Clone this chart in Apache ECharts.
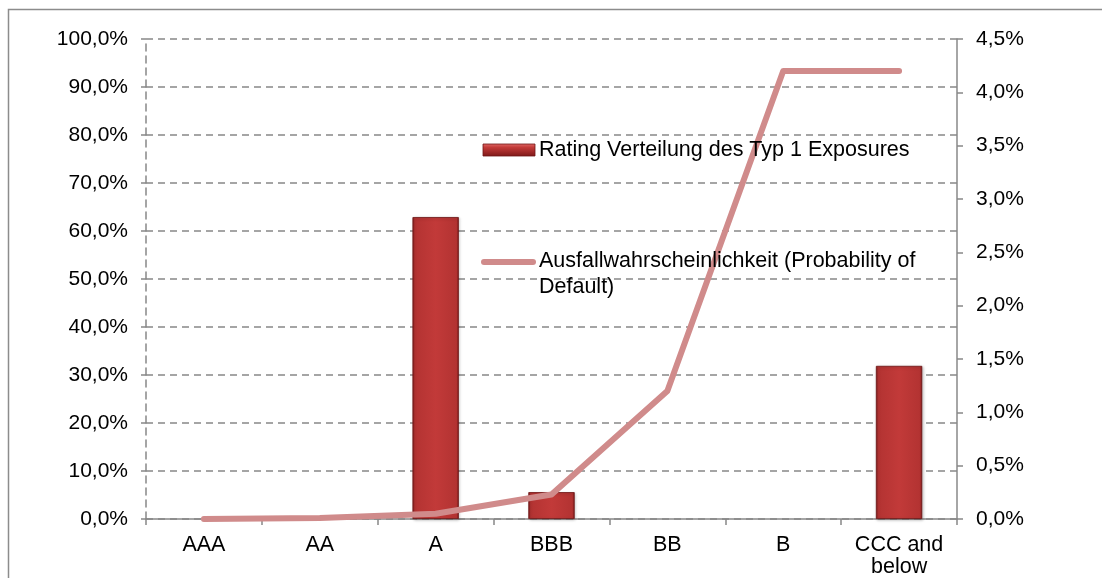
<!DOCTYPE html>
<html><head><meta charset="utf-8">
<script src="https://cdn.jsdelivr.net/npm/echarts@6/dist/echarts.min.js"></script>
<style>html,body{margin:0;padding:0;background:#fff}#c{width:1102px;height:578px}</style>
</head><body><div id="c"></div>
<script>
const categories = ['AAA','AA','A','BBB','BB','B','CCC and\nbelow'];
const ratingShare = [0, 0, 62.9, 5.6, 0, 0, 31.9];
const pdValues = [0.0, 0.01, 0.05, 0.23, 1.2, 4.2, 4.2];
const leftTicks = {min: 0, max: 100, interval: 10};
const rightTicks = {min: 0, max: 4.5, interval: 0.5};
const barName = 'Rating Verteilung des Typ 1 Exposures';
const lineName = 'Ausfallwahrscheinlichkeit (Probability of Default)';
const lineNameWrapped = 'Ausfallwahrscheinlichkeit (Probability of\nDefault)';

const fmt = v => v.toFixed(1).replace('.', ',') + '%';
const chart = echarts.init(document.getElementById('c'));
const font = 'Liberation Sans, Arial, sans-serif';
const barGrad = new echarts.graphic.LinearGradient(0, 0, 1, 0, [
  {offset: 0, color: '#7a1a1a'}, {offset: 0.05, color: '#b33332'},
  {offset: 0.5, color: '#c23a39'}, {offset: 0.95, color: '#b33332'}, {offset: 1, color: '#7a1a1a'}
]);
const legendGrad = new echarts.graphic.LinearGradient(0, 0, 0, 1, [
  {offset: 0, color: '#e06a68'}, {offset: 0.3, color: '#c23a38'}, {offset: 1, color: '#7d1818'}
]);
chart.setOption({
  animation: false,
  textStyle: {fontFamily: font},
  graphic: [
    {type: 'rect', shape: {x: 8.5, y: 9.5, width: 1100, height: 600}, style: {fill: 'none', stroke: '#8c8c8c', lineWidth: 1.5}, silent: true},
    {type: 'rect', shape: {x: 483, y: 144, width: 52, height: 12}, style: {fill: legendGrad, stroke: '#6e1414', lineWidth: 0.8}, z: 10},
    {type: 'text', x: 539, y: 150, style: {text: barName, fontSize: 21.5, fill: '#000', fontFamily: font, verticalAlign: 'middle'}, z: 10},
    {type: 'line', shape: {x1: 484, y1: 262, x2: 533, y2: 262}, style: {stroke: '#d08b8b', lineWidth: 6, lineCap: 'round'}, z: 10},
    {type: 'text', x: 539, y: 248, style: {text: lineNameWrapped, fontSize: 21.5, lineHeight: 26, fill: '#000', fontFamily: font, verticalAlign: 'top'}, z: 10}
  ],
  grid: {left: 146, right: 145, top: 39, bottom: 59, containLabel: false, outerBoundsMode: 'none'},
  xAxis: {
    type: 'category', data: categories,
    axisLine: {lineStyle: {color: '#888', width: 1.5}},
    axisTick: {show: true, length: 6, lineStyle: {color: '#888', width: 1.5}},
    axisLabel: {fontSize: 21.5, color: '#000', margin: 15, lineHeight: 22, fontFamily: font}
  },
  yAxis: [{
    type: 'value', ...leftTicks,
    axisLine: {show: true, lineStyle: {color: '#888', type: [7,5], width: 1.5}},
    axisTick: {show: true, length: 5, lineStyle: {color: '#888', width: 1.5}},
    splitLine: {lineStyle: {color: '#888', type: [7,5], width: 1.5}},
    axisLabel: {formatter: fmt, fontSize: 21, color: '#000', margin: 18, fontFamily: font}
  }, {
    type: 'value', ...rightTicks, position: 'right',
    axisLine: {show: true, lineStyle: {color: '#888', width: 1.5}},
    axisTick: {show: true, length: 6, lineStyle: {color: '#888', width: 1.5}},
    splitLine: {show: false},
    axisLabel: {formatter: fmt, fontSize: 21, color: '#000', margin: 19, fontFamily: font}
  }],
  series: [{
    name: barName, type: 'bar', data: ratingShare.map(v => v === 0 ? '-' : v), barWidth: '40%', yAxisIndex: 0,
    itemStyle: {
      color: barGrad, borderColor: '#6e1414', borderWidth: 0.8,
      shadowColor: 'rgba(0,0,0,0.25)', shadowBlur: 3, shadowOffsetX: 1, shadowOffsetY: 1
    }
  }, {
    name: lineName, type: 'line', data: pdValues, yAxisIndex: 1,
    symbol: 'none', lineStyle: {color: '#d08b8b', width: 6, cap: 'round', join: 'round'},
    itemStyle: {color: '#d08b8b'}
  }]
});
</script></body></html>
